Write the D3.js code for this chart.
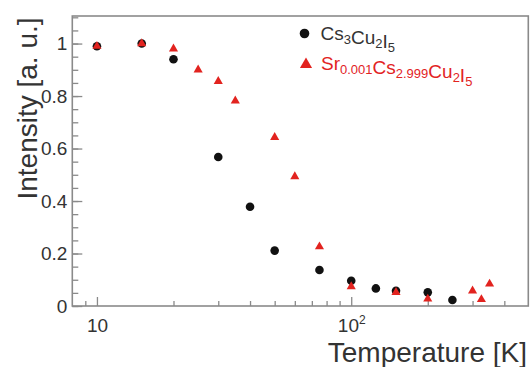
<!DOCTYPE html>
<html>
<head>
<meta charset="utf-8">
<script src="https://cdn.jsdelivr.net/npm/d3@7"></script>
<style>
  html, body { margin: 0; padding: 0; background: #fff; }
  svg { display: block; font-family: "Liberation Sans", Arial, Helvetica, sans-serif; }
</style>
</head>
<body>
<svg id="chart" width="530" height="367"></svg>
<script>
// Temperature-dependent emission intensity of the two scintillators
const pureTemps = [10, 15, 20, 30, 40, 50, 75, 100, 125, 150, 200, 250];
const pureIntensity = [0.99, 1.0, 0.94, 0.568, 0.378, 0.211, 0.137, 0.096, 0.067, 0.058, 0.052, 0.023];

const dopedTemps = [10, 15, 20, 25, 30, 35, 50, 60, 75, 100, 150, 200, 300, 325, 350];
const dopedIntensity = [0.99, 1.0, 0.98, 0.90, 0.856, 0.782, 0.643, 0.493, 0.226, 0.074, 0.052, 0.027, 0.058, 0.025, 0.084];

// Axis ticks
const xMajorTicks = [10, 100];
const xMajorBase = ["10", "10"];
const xMajorExp = ["", "2"];
const xMinorTicks = [9, 20, 30, 40, 50, 60, 70, 80, 90, 200, 300, 400];
const yMajorTicks = [0, 0.2, 0.4, 0.6, 0.8, 1];
const yMinorTicks = d3.range(0, 23).map(i => +(i * 0.05).toFixed(2));

const W = 530, H = 367;
const margin = { left: 72.3, top: 16, right: 1.7, bottom: 61 };
const iw = W - margin.left - margin.right;
const ih = H - margin.top - margin.bottom;

const axisColor = "#8a8a8a";
const textColor = "#333";
const red = "#e2231f";

const svg = d3.select("#chart");
const g = svg.append("g").attr("transform", `translate(${margin.left},${margin.top})`);

const x = d3.scaleLog().domain([8, 497]).range([0, iw]);
const y = d3.scaleLinear().domain([0, 1.105]).range([ih, 0]);

// Plot frame
g.append("rect")
  .attr("x", 0).attr("y", 0).attr("width", iw).attr("height", ih)
  .attr("fill", "none").attr("stroke", axisColor).attr("stroke-width", 1.6);

function styleAxis(sel) {
  sel.select(".domain").remove();
  sel.selectAll(".tick line").attr("stroke", axisColor).attr("stroke-width", 1.3);
}

// Bottom axis: inward ticks
g.append("g").attr("transform", `translate(0,${ih})`)
  .call(d3.axisBottom(x).tickValues(xMinorTicks).tickSize(-5).tickFormat(""))
  .call(styleAxis);
const xMaj = g.append("g").attr("transform", `translate(0,${ih})`)
  .call(d3.axisBottom(x).tickValues(xMajorTicks).tickSize(-9).tickFormat(""))
  .call(styleAxis);
xMaj.selectAll(".tick text").remove();
xMaj.selectAll(".tick").each(function(d, i) {
  const t = d3.select(this).append("text")
    .attr("y", 26).attr("fill", textColor)
    .attr("font-size", 19).attr("text-anchor", "middle");
  t.append("tspan").text(xMajorBase[i]);
  if (xMajorExp[i]) {
    t.append("tspan").attr("font-size", 12).attr("dy", -8).text(xMajorExp[i]);
  }
});

// Left axis: inward ticks
g.append("g")
  .call(d3.axisLeft(y).tickValues(yMinorTicks).tickSize(-6).tickFormat(""))
  .call(styleAxis);
const yMaj = g.append("g")
  .call(d3.axisLeft(y).tickValues(yMajorTicks).tickSize(-10).tickPadding(5).tickFormat(d3.format("~g")))
  .call(styleAxis);
yMaj.selectAll(".tick text").attr("fill", textColor).attr("font-size", 19)
  .attr("font-family", "'Liberation Sans', Arial, sans-serif");

// Data points
g.append("g").selectAll("circle")
  .data(pureTemps.map((t, i) => [t, pureIntensity[i]]))
  .join("circle")
  .attr("cx", d => x(d[0])).attr("cy", d => y(d[1]))
  .attr("r", 4.3).attr("fill", "#111");

const tri = d3.symbol().type(d3.symbolTriangle).size(36);
g.append("g").selectAll("path")
  .data(dopedTemps.map((t, i) => [t, dopedIntensity[i]]))
  .join("path")
  .attr("transform", d => `translate(${x(d[0])},${y(d[1])})`)
  .attr("d", tri).attr("fill", red);

// Legend
const legend = svg.append("g");
legend.append("circle").attr("cx", 304.5).attr("cy", 33.5).attr("r", 4.8).attr("fill", "#111");
legend.append("path").attr("transform", "translate(306,64.5)")
  .attr("d", d3.symbol().type(d3.symbolTriangle).size(64)).attr("fill", red);

function formula(parent, xPos, yPos, parts, color) {
  const t = parent.append("text").attr("x", xPos).attr("y", yPos)
    .attr("fill", color).attr("font-size", 19);
  parts.forEach(([s, sub]) => {
    t.append("tspan").text(s);
    if (sub) {
      t.append("tspan").attr("font-size", 13).attr("dy", 4).text(sub);
      t.append("tspan").attr("dy", -4).text("");
    }
  });
}
formula(legend, 320.5, 40, [["Cs", "3"], ["Cu", "2"], ["I", "5"]], "#333");
formula(legend, 321, 70, [["Sr", "0.001"], ["Cs", "2.999"], ["Cu", "2"], ["I", "5"]], red);

// Axis titles
svg.append("text")
  .attr("x", 527).attr("y", 362)
  .attr("text-anchor", "end").attr("font-size", 28).attr("fill", textColor)
  .text("Temperature [K]");
svg.append("text")
  .attr("transform", "translate(37,108.5) rotate(-90)")
  .attr("text-anchor", "middle").attr("font-size", 28).attr("fill", textColor)
  .text("Intensity [a. u.]");
</script>
</body>
</html>
